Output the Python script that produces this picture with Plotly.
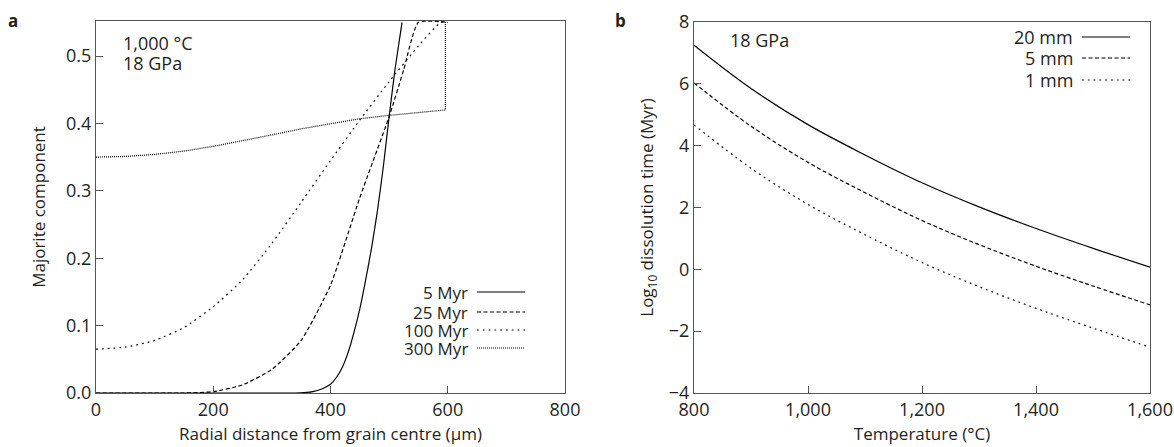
import plotly.graph_objects as go

# Panel a: majorite component vs radial distance (1,000 °C, 18 GPa)
r_5 = [0, 200, 340, 355, 370, 385, 400, 410, 420, 430, 440, 450, 460, 470, 480, 490, 500, 510, 522]
c_5 = [0, 0, 0, 0.0005, 0.002, 0.006, 0.013, 0.023, 0.038, 0.06, 0.09, 0.125, 0.168, 0.215, 0.27, 0.335, 0.41, 0.48, 0.55]

r_25 = [0, 150, 200, 250, 300, 350, 400, 450, 500, 525, 550, 600]
c_25 = [0, 0, 0.002, 0.012, 0.035, 0.078, 0.16, 0.29, 0.41, 0.48, 0.55, 0.55]

r_100 = [0, 50, 100, 150, 200, 250, 300, 350, 400, 450, 500, 550, 588, 600]
c_100 = [0.065, 0.068, 0.078, 0.097, 0.128, 0.168, 0.222, 0.283, 0.345, 0.405, 0.462, 0.515, 0.55, 0.55]

r_300 = [0, 50, 100, 150, 200, 250, 300, 350, 400, 450, 500, 550, 596, 596]
c_300 = [0.350, 0.351, 0.354, 0.359, 0.366, 0.374, 0.383, 0.392, 0.400, 0.407, 0.412, 0.416, 0.420, 0.55]

# Panel b: log10 dissolution time vs temperature (18 GPa)
temp = [800, 900, 1000, 1100, 1200, 1300, 1400, 1500, 1600]
t_20mm = [7.25, 5.85, 4.68, 3.70, 2.80, 2.02, 1.32, 0.68, 0.07]
t_5mm = [6.03, 4.63, 3.46, 2.48, 1.58, 0.80, 0.10, -0.54, -1.15]
t_1mm = [4.67, 3.27, 2.10, 1.12, 0.22, -0.56, -1.26, -1.90, -2.52]

FONT = "Open Sans"
INK = "#231f20"
AX = "#555555"
W, H = 1174, 447
ML, MR, MT, MB = 96, 24, 21, 54
pw = W - ML - MR
ph = H - MT - MB


# pixel position in the picture -> paper coordinates of the plot area
def px_x(v):
    return (v - ML) / pw


def px_y(v):
    return (H - MB - v) / ph


fig = go.Figure()

series_a = [
    (r_5, c_5, "solid", "5 Myr", "spline"),
    (r_25, c_25, "4px,2.5px", "25 Myr", "spline"),
    (r_100, c_100, "1.8px,4px", "100 Myr", "spline"),
    (r_300, c_300, "1px,1px", "300 Myr", "linear"),
]
for xs, ys, dash, name, shape in series_a:
    fig.add_trace(go.Scatter(x=xs, y=ys, mode="lines", name=name, showlegend=False,
                             line=dict(color="black", width=1.2, dash=dash, shape=shape,
                                       smoothing=0.5),
                             xaxis="x", yaxis="y"))

series_b = [
    (t_20mm, "solid", "20 mm"),
    (t_5mm, "4px,2.5px", "5 mm"),
    (t_1mm, "1.8px,4px", "1 mm"),
]
for ys, dash, name in series_b:
    fig.add_trace(go.Scatter(x=temp, y=ys, mode="lines", name=name, showlegend=False,
                             line=dict(color="black", width=1.2, dash=dash, shape="spline"),
                             xaxis="x2", yaxis="y2"))

axis_common = dict(showline=True, linecolor=AX, linewidth=1, mirror=True, automargin=False,
                   ticks="inside", ticklen=7, tickcolor=AX, showgrid=False, zeroline=False,
                   tickfont=dict(family=FONT, size=18, color=INK),
                   title_font=dict(family=FONT, size=17, color=INK))

fig.update_layout(
    width=W, height=H,
    margin=dict(l=ML, r=MR, t=MT, b=MB),
    paper_bgcolor="white", plot_bgcolor="white",
    xaxis=dict(domain=[0, px_x(565)], range=[0, 800], tickvals=[0, 200, 400, 600, 800],
               title=dict(text="Radial distance from grain centre (μm)", standoff=8),
               anchor="y", **axis_common),
    yaxis=dict(domain=[0, 1], range=[0, 0.552], tickvals=[0, 0.1, 0.2, 0.3, 0.4, 0.5],
               tickformat=".1f", title=dict(text="Majorite component", standoff=16),
               anchor="x", **axis_common),
    xaxis2=dict(domain=[px_x(694), 1], range=[800, 1600], tickvals=[800, 1000, 1200, 1400, 1600],
                tickformat=",", title=dict(text="Temperature (°C)", standoff=8),
                anchor="y2", **axis_common),
    yaxis2=dict(domain=[0, px_y(22)], range=[-4, 8], tickvals=[-4, -2, 0, 2, 4, 6, 8],
                title=dict(text="Log<sub>10</sub> dissolution time (Myr)", standoff=10),
                anchor="x2", **axis_common),
)

# panel letters and condition notes
notes = [
    dict(text="<b>a</b>", x=6, y=20, size=17),
    dict(text="<b>b</b>", x=613, y=20, size=17),
    dict(text="1,000 °C", x=121, y=43, size=18),
    dict(text="18 GPa", x=121, y=63, size=18),
    dict(text="18 GPa", x=728, y=40, size=18),
]
for n in notes:
    fig.add_annotation(text=n["text"], xref="paper", yref="paper",
                       x=px_x(n["x"]), y=px_y(n["y"]), xanchor="left", yanchor="middle",
                       showarrow=False, font=dict(family=FONT, size=n["size"], color=INK))

# hand-drawn style legends: text on the left, line sample on the right
legend_a = [("5 Myr", "solid", 292), ("25 Myr", "4px,2.5px", 312),
            ("100 Myr", "1.8px,4px", 330), ("300 Myr", "1px,1px", 348)]
for label, dash, yy in legend_a:
    fig.add_annotation(text=label, xref="paper", yref="paper", x=px_x(470), y=px_y(yy),
                       xanchor="right", yanchor="middle", showarrow=False,
                       font=dict(family=FONT, size=17, color=INK))
    fig.add_shape(type="line", xref="paper", yref="paper", x0=px_x(477), x1=px_x(525),
                  y0=px_y(yy), y1=px_y(yy), line=dict(color="black", width=1.2, dash=dash))

legend_b = [("20 mm", "solid", 37), ("5 mm", "4px,2.5px", 58), ("1 mm", "1.8px,4px", 80)]
for label, dash, yy in legend_b:
    fig.add_annotation(text=label, xref="paper", yref="paper", x=px_x(1075), y=px_y(yy),
                       xanchor="right", yanchor="middle", showarrow=False,
                       font=dict(family=FONT, size=18, color=INK))
    fig.add_shape(type="line", xref="paper", yref="paper", x0=px_x(1082), x1=px_x(1130),
                  y0=px_y(yy), y1=px_y(yy), line=dict(color="black", width=1.2, dash=dash))

# drop the page's default body margin so the figure sits at the window's corner
fig.write_html("out.html", config={"displayModeBar": False},
               post_script="document.body.style.margin='0';")
